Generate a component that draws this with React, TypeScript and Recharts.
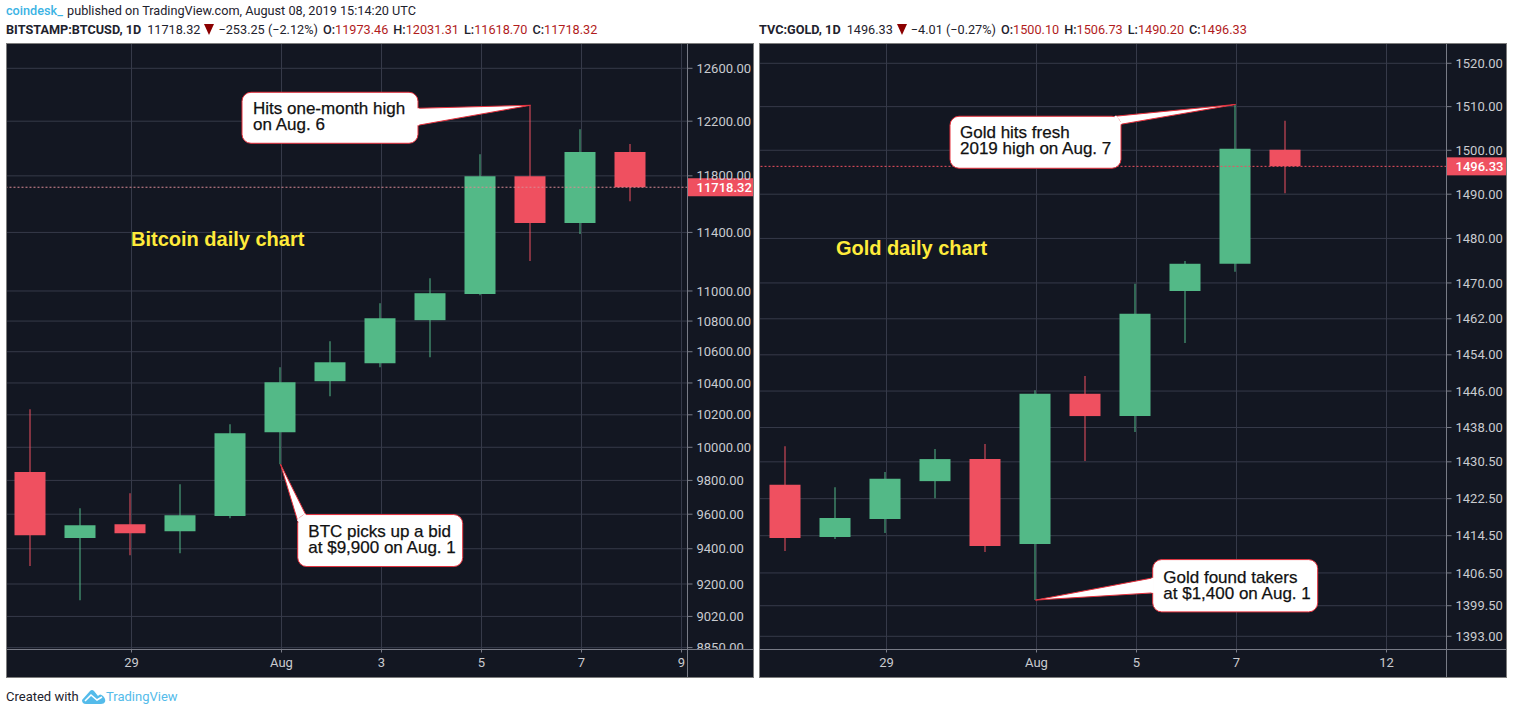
import { Bar, CartesianGrid, Cell, ComposedChart, ReferenceDot, ReferenceLine, XAxis, YAxis } from "recharts";

// BTC daily candles, Jul 27 - Aug 8
const btcOpen = [9850, 9462, 9542, 9501, 9589, 10092, 10411, 10526, 10806, 10980, 11797, 11466, 11973.46];
const btcHigh = [10235, 9635, 9724, 9777, 10142, 10500, 10668, 10918, 11085, 11956, 12319, 12140, 12031.31];
const btcLow = [9301, 9110, 9363, 9374, 9577, 9897, 10316, 10500, 10564, 10972, 11203, 11389, 11618.7];
const btcClose = [9478, 9536, 9489, 9594, 10086, 10404, 10532, 10818, 10985, 11797, 11466, 11973, 11718.32];
const btcYTicks = [12600, 12200, 11800, 11400, 11000, 10800, 10600, 10400, 10200, 10000, 9800, 9600, 9400, 9200, 9020, 8850];
const btcXTicks = [2, 5, 7, 9, 11, 13];
const btcXLabels = ["29", "Aug", "3", "5", "7", "9"];

// gold daily candles, Jul 25 - Aug 8 (no weekends)
const goldOpen = [1425.5, 1414.2, 1418.1, 1426.3, 1431.1, 1412.7, 1445.4, 1440.5, 1468.2, 1474.3, 1500.1];
const goldHigh = [1433.9, 1425, 1428.3, 1433.3, 1434.4, 1446.2, 1449.3, 1469.8, 1474.9, 1510.5, 1506.73];
const goldLow = [1411.2, 1413.8, 1415.1, 1422.6, 1411, 1400.7, 1430.7, 1437, 1456.6, 1472.5, 1490.2];
const goldClose = [1414, 1418.3, 1426.8, 1431.1, 1412.3, 1445.4, 1440.5, 1463.1, 1474.3, 1500.34, 1496.33];
const goldYTicks = [1520, 1510, 1500, 1490, 1480, 1470, 1462, 1454, 1446, 1438, 1430.5, 1422.5, 1414.5, 1406.5, 1399.5, 1393];
const goldXTicks = [2, 5, 7, 9, 12];
const goldXLabels = ["29", "Aug", "5", "7", "12"];

const UP = "#53b987";
const DOWN = "#ef5060";
const GRID = "#363a49";
const AXIS = "#787b86";
const TEXT = "#c9cbd0";
const PANEL = "#131722";
const UI_FONT = "Roboto, sans-serif";

const buildRows = (open: number[], high: number[], low: number[], close: number[]) =>
  open.map((o, i) => ({
    idx: i,
    up: close[i] >= o,
    body: [Math.min(o, close[i]), Math.max(o, close[i])],
    wick: [low[i], high[i]],
  }));

function Callout({ cx, cy, box, tail, lines, textX, textY }: any) {
  return (
    <g transform={`translate(${cx},${cy})`}>
      <polygon points={`0,0 ${tail[0][0]},${tail[0][1]} ${tail[1][0]},${tail[1][1]}`} fill="#fff" stroke="#e5303c" strokeWidth={1} />
      <rect x={box[0]} y={box[1]} width={box[2]} height={box[3]} rx={9} fill="#fff" stroke="#e5303c" strokeWidth={1} />
      <line x1={tail[0][0]} y1={tail[0][1]} x2={tail[1][0]} y2={tail[1][1]} stroke="#fff" strokeWidth={2.5} />
      {lines.map((t: string, i: number) => (
        <text key={t} x={textX} y={textY + i * 16} fontFamily="'Liberation Sans', Arial, sans-serif" fontSize={17} fill="#111" stroke="#111" strokeWidth={0.25}>
          {t}
        </text>
      ))}
    </g>
  );
}

function PriceTag({ viewBox, value, width, color }: any) {
  const x = viewBox.x + viewBox.width;
  const y = viewBox.y;
  return (
    <g>
      <rect x={x} y={y - 9} width={width} height={18} fill={color} />
      <text x={x + 9} y={y + 5} fontFamily={UI_FONT} fontSize={13} fontWeight={500} fill="#fff">
        {value}
      </text>
    </g>
  );
}

function CandlePanel({ left, rows, yTicks, yDomain, xTicks, xLabels, xDomain, axisWidth, price, priceLine, callouts }: any) {
  const shifted = [xDomain[0] + 0.02, xDomain[1] + 0.02];
  return (
    <div style={{ position: "absolute", left, top: 43, width: 748, height: 635, boxSizing: "border-box", border: "1px solid #7d7d7d", background: PANEL }}>
      <ComposedChart width={746} height={633} data={rows} margin={{ top: 0, right: 0, bottom: 0, left: 0 }}>
        <CartesianGrid xAxisId="time" stroke={GRID} strokeWidth={1} verticalValues={xTicks} horizontalValues={yTicks} />
        <XAxis
          xAxisId="time"
          type="number"
          dataKey="idx"
          domain={xDomain}
          allowDataOverflow
          ticks={xTicks}
          interval={0}
          height={27.5}
          tickSize={3}
          tickMargin={5}
          stroke={AXIS}
          tick={{ fill: TEXT, fontFamily: UI_FONT, fontSize: 13 }}
          tickFormatter={(v: number) => xLabels[xTicks.indexOf(v)]}
        />
        <XAxis xAxisId="wick" orientation="top" height={0} type="number" dataKey="idx" domain={shifted} allowDataOverflow hide />
        <XAxis xAxisId="body" orientation="top" height={0} type="number" dataKey="idx" domain={shifted} allowDataOverflow hide />
        <YAxis
          orientation="right"
          scale="log"
          type="number"
          domain={yDomain}
          allowDataOverflow
          ticks={yTicks}
          interval={0}
          width={axisWidth}
          tickSize={5}
          tickMargin={4}
          stroke={AXIS}
          tick={{ fill: TEXT, fontFamily: UI_FONT, fontSize: 13, textAnchor: "start" }}
          tickFormatter={(v: number) => v.toFixed(2)}
        />
        <Bar xAxisId="wick" dataKey="wick" barSize={1} isAnimationActive={false}>
          {rows.map((r: any) => (
            <Cell key={r.idx} fill={r.up ? UP : DOWN} />
          ))}
        </Bar>
        <Bar xAxisId="body" dataKey="body" barSize={31} isAnimationActive={false}>
          {rows.map((r: any) => (
            <Cell key={r.idx} fill={r.up ? UP : DOWN} />
          ))}
        </Bar>
        <ReferenceLine
          xAxisId="time"
          y={price}
          stroke={priceLine}
          strokeDasharray="2 2"
          label={(p: any) => <PriceTag viewBox={p.viewBox} value={price.toFixed(2)} width={axisWidth} color={DOWN} />}
        />
        {callouts.map((c: any) => (
          <ReferenceDot
            key={c.lines[0]}
            xAxisId="wick"
            x={c.x}
            y={c.y}
            ifOverflow="visible"
            shape={(p: any) => <Callout cx={p.cx} cy={p.cy} {...c} />}
          />
        ))}
      </ComposedChart>
      {/* corner box under the price scale, also cuts off the lowest tick label */}
      <div style={{ position: "absolute", left: 746 - axisWidth - 0.5, top: 605, width: axisWidth + 0.5, height: 28, boxSizing: "border-box", background: PANEL, borderTop: `1px solid ${AXIS}`, borderLeft: `1px solid ${AXIS}` }} />
    </div>
  );
}

function Header({ left, symbol, last, change, o, h, l, c }: any) {
  const red = { color: "#b11c1c" };
  const key = { marginLeft: 5, fontWeight: 500 };
  return (
    <div style={{ position: "absolute", left, top: 22, whiteSpace: "nowrap", fontFamily: UI_FONT, fontSize: 12.7, lineHeight: "16px", color: "#1e222d" }}>
      <b style={{ fontWeight: 700 }}>{symbol}</b>
      <span style={{ marginLeft: 6 }}>{last}</span>
      <svg width={10} height={11} style={{ margin: "0 4px", verticalAlign: -1 }}>
        <polygon points="0,0 10,0 5,11" fill="#8b0000" />
      </svg>
      <span>{change}</span>
      <b style={key}>O:</b>
      <span style={red}>{o}</span>
      <b style={key}>H:</b>
      <span style={red}>{h}</span>
      <b style={key}>L:</b>
      <span style={red}>{l}</span>
      <b style={key}>C:</b>
      <span style={red}>{c}</span>
    </div>
  );
}

const btcCallouts = [
  { x: 10, y: 12319, box: [-288.5, -13, 176, 51], tail: [[-112.5, 3], [-112.5, 20]], lines: ["Hits one-month high", "on Aug. 6"], textX: -277.5, textY: 9 },
  { x: 5, y: 9897, box: [17.2, 50.3, 165, 52], tail: [[25.2, 50.3], [17.2, 56.7]], lines: ["BTC picks up a bid", "at $9,900 on Aug. 1"], textX: 27.8, textY: 72.5 },
];
const goldCallouts = [
  { x: 9, y: 1510.5, box: [-285.5, 11.8, 171, 52], tail: [[-120.5, 11.8], [-114.5, 19.8]], lines: ["Gold hits fresh", "2019 high on Aug. 7"], textX: -275.5, textY: 34 },
  { x: 5, y: 1400.7, box: [117.2, -40.5, 165, 52.3], tail: [[117.2, -22.2], [117.2, -7.2]], lines: ["Gold found takers", "at $1,400 on Aug. 1"], textX: 127.8, textY: -17.3 },
];

const yellow = { position: "absolute", color: "#ffeb3b", fontFamily: "'Liberation Sans', Arial, sans-serif", fontWeight: 700, fontSize: 20, lineHeight: "24px", whiteSpace: "nowrap" } as const;

export default function App() {
  return (
    <div style={{ position: "absolute", left: 0, top: 0, width: 1513, height: 714, overflow: "hidden", background: "#fff" }}>
      <div style={{ position: "absolute", left: 6, top: 3, whiteSpace: "nowrap", fontFamily: UI_FONT, fontSize: 12.7, lineHeight: "16px", color: "#1e222d" }}>
        <span style={{ color: "#3bb3e4", fontWeight: 500, marginRight: 1 }}>coindesk_</span> published on TradingView.com, August 08, 2019 15:14:20 UTC
      </div>
      <Header left={6} symbol="BITSTAMP:BTCUSD, 1D" last="11718.32" change="−253.25 (−2.12%)" o="11973.46" h="12031.31" l="11618.70" c="11718.32" />
      <Header left={759} symbol="TVC:GOLD, 1D" last="1496.33" change="−4.01 (−0.27%)" o="1500.10" h="1506.73" l="1490.20" c="1496.33" />

      <CandlePanel
        left={6}
        rows={buildRows(btcOpen, btcHigh, btcLow, btcClose)}
        yTicks={btcYTicks}
        yDomain={[8839.8, 12788]}
        xTicks={btcXTicks}
        xLabels={btcXLabels}
        xDomain={[-0.49, 13.12]}
        axisWidth={65.5}
        price={11718.32}
        priceLine="#d98a94"
        callouts={btcCallouts}
      />
      <CandlePanel
        left={759}
        rows={buildRows(goldOpen, goldHigh, goldLow, goldClose)}
        yTicks={goldYTicks}
        yDomain={[1390.2, 1524.47]}
        xTicks={goldXTicks}
        xLabels={goldXLabels}
        xDomain={[-0.53, 13.2]}
        axisWidth={59.5}
        price={1496.33}
        priceLine={DOWN}
        callouts={goldCallouts}
      />

      <div style={{ ...yellow, left: 131, top: 227 }}>Bitcoin daily chart</div>
      <div style={{ ...yellow, left: 836, top: 236 }}>Gold daily chart</div>

      <div style={{ position: "absolute", left: 6, top: 689, fontFamily: UI_FONT, fontSize: 13, lineHeight: "16px", color: "#1e222d", whiteSpace: "nowrap" }}>Created with</div>
      <svg style={{ position: "absolute", left: 82, top: 688 }} width={24} height={17}>
        <path d="M0 12 L8 3 Q10 1 12 3 L16 8 Q18 5 21 8 Q24 11 23 14 Q22 16 19 16 L4 16 Q0 16 0 12 Z" fill="#54bbea" />
        <path d="M3 13 L9 7 L15 12 L20 9" fill="none" stroke="#fff" strokeWidth={1.6} />
      </svg>
      <div style={{ position: "absolute", left: 106, top: 689, fontFamily: UI_FONT, fontSize: 13, lineHeight: "16px", color: "#54bbea", whiteSpace: "nowrap" }}>TradingView</div>
    </div>
  );
}
